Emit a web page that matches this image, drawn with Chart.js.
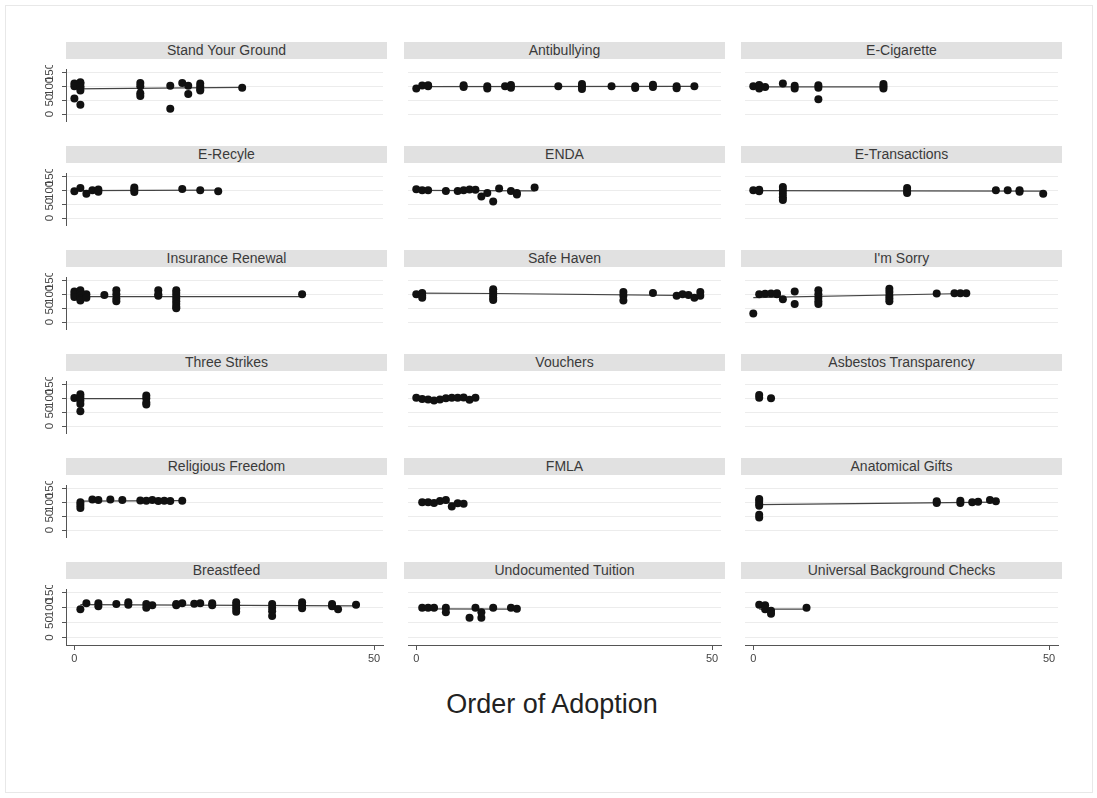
<!DOCTYPE html>
<html>
<head>
<meta charset="utf-8">
<script src="https://cdn.jsdelivr.net/npm/chart.js@4.4.1/dist/chart.umd.min.js"></script>
<style>
    body { margin: 0; background: #fff; width: 1097px; height: 798px; position: relative; overflow: hidden; font-family: "Liberation Sans", Arial, sans-serif; }
    #marco { position: absolute; left: 5px; top: 5px; width: 1086px; height: 786px; border: 1px solid #e8e8e8; }
    .tira { position: absolute; height: 17px; background: #e1e1e1; color: #3a3a3a; font-size: 14px; text-align: center; line-height: 17px; }
    .panel { position: absolute; }
    #titulo { position: absolute; left: 0; width: 1104px; top: 689px; text-align: center; font-size: 27px; color: #222; }
</style>
</head>
<body>
<div id="marco"></div>
<div id="paneles"></div>
<div id="titulo">Order of Adoption</div>

<script>
// datos: [orden de adopcion, valor]
const standYourGround = [[0,110],[0,100],[1,115],[1,110],[1,100],[1,95],[1,85],[0,56],[1,34],[11,112],[11,100],[11,75],[11,65],[16,102],[16,19],[18,112],[19,102],[19,72],[21,110],[21,100],[21,90],[21,85],[28,95]];
const standYourGroundFit = [[0,91],[28,96]];

const antibullying = [[0,92],[1,103],[2,104],[2,100],[8,104],[8,98],[12,100],[12,92],[15,100],[16,105],[16,95],[24,100],[28,108],[28,100],[28,90],[33,100],[37,100],[37,94],[40,106],[40,98],[44,100],[44,93],[47,100]];
const antibullyingFit = [[0,99],[47,100]];

const eCigarette = [[0,100],[1,105],[1,92],[2,98],[5,110],[7,102],[7,92],[11,104],[11,95],[11,53],[22,108],[22,100],[22,92]];
const eCigaretteFit = [[0,98],[22,98]];

const eRecyle = [[0,97],[1,108],[2,88],[3,100],[4,103],[4,95],[10,110],[10,102],[10,94],[18,105],[21,100],[24,97]];
const eRecyleFit = [[0,99],[24,101]];

const enda = [[0,104],[1,100],[2,100],[5,98],[7,98],[8,100],[9,103],[10,102],[11,78],[12,90],[13,60],[14,107],[16,98],[17,90],[17,85],[20,110]];
const endaFit = [[0,100],[20,98]];

const eTransactions = [[0,100],[1,102],[1,97],[5,112],[5,100],[5,88],[5,75],[5,65],[26,108],[26,98],[26,90],[41,100],[43,100],[45,100],[45,95],[49,88]];
const eTransactionsFit = [[0,99],[49,97]];

const insuranceRenewal = [[0,110],[0,100],[0,90],[1,115],[1,105],[1,95],[1,85],[1,78],[2,100],[2,88],[5,98],[7,115],[7,100],[7,85],[7,75],[14,115],[14,100],[14,95],[17,115],[17,105],[17,95],[17,85],[17,75],[17,65],[17,55],[17,50],[38,100]];
const insuranceRenewalFit = [[0,92],[38,92]];

const safeHaven = [[0,100],[1,105],[1,95],[1,88],[13,118],[13,108],[13,98],[13,88],[13,80],[35,108],[35,95],[35,78],[40,105],[44,95],[45,100],[46,98],[47,88],[48,108],[48,95]];
const safeHavenFit = [[0,104],[13,103],[48,95]];

const imSorry = [[0,31],[1,100],[2,102],[3,103],[4,100],[4,104],[5,82],[7,110],[7,65],[11,115],[11,100],[11,88],[11,75],[11,65],[23,120],[23,108],[23,95],[23,85],[23,75],[31,103],[34,104],[35,104],[36,104]];
const imSorryFit = [[0,88],[36,103]];

const threeStrikes = [[0,101],[1,115],[1,105],[1,92],[1,80],[1,53],[12,110],[12,100],[12,85],[12,78]];
const threeStrikesFit = [[0,99],[12,99]];

const vouchers = [[0,102],[1,98],[2,96],[3,92],[4,96],[5,100],[6,102],[7,102],[8,103],[9,95],[10,102]];
const vouchersFit = [[0,97],[10,99]];

const asbestos = [[1,112],[1,102],[3,100]];
const asbestosFit = [];

const religiousFreedom = [[1,90],[1,80],[1,100],[3,110],[4,108],[6,110],[8,108],[11,107],[12,106],[13,108],[14,105],[15,106],[16,105],[18,106]];
const religiousFreedomFit = [[1,104],[18,106]];

const fmla = [[1,100],[2,100],[3,98],[4,105],[5,108],[6,85],[7,97],[8,95]];
const fmlaFit = [[1,99],[8,98]];

const anatomicalGifts = [[1,112],[1,105],[1,95],[1,88],[1,55],[1,45],[31,104],[31,98],[35,106],[35,98],[37,100],[38,102],[40,108],[41,104]];
const anatomicalGiftsFit = [[1,92],[41,101]];

const breastfeed = [[1,95],[2,115],[4,115],[4,105],[7,112],[9,118],[9,110],[12,112],[12,100],[13,108],[17,108],[17,112],[18,115],[20,113],[21,115],[23,115],[23,108],[27,118],[27,108],[27,97],[27,86],[33,112],[33,100],[33,88],[33,72],[38,118],[38,108],[38,98],[43,112],[43,105],[44,95],[47,110]];
const breastfeedFit = [[1,110],[47,106]];

const undocumentedTuition = [[1,100],[2,100],[3,100],[5,100],[5,85],[9,66],[10,100],[11,66],[11,85],[13,100],[16,100],[17,96]];
const undocumentedTuitionFit = [[1,96],[17,95]];

const universalChecks = [[1,110],[2,108],[2,95],[3,90],[3,80],[9,100]];
const universalChecksFit = [[1,95],[9,95]];

const yTicks = [0, 50, 100, 150];
const xTicks = [0, 50];

const paneles = [
    { titulo: "Stand Your Ground", puntos: standYourGround, ajuste: standYourGroundFit },
    { titulo: "Antibullying", puntos: antibullying, ajuste: antibullyingFit },
    { titulo: "E-Cigarette", puntos: eCigarette, ajuste: eCigaretteFit },
    { titulo: "E-Recyle", puntos: eRecyle, ajuste: eRecyleFit },
    { titulo: "ENDA", puntos: enda, ajuste: endaFit },
    { titulo: "E-Transactions", puntos: eTransactions, ajuste: eTransactionsFit },
    { titulo: "Insurance Renewal", puntos: insuranceRenewal, ajuste: insuranceRenewalFit },
    { titulo: "Safe Haven", puntos: safeHaven, ajuste: safeHavenFit },
    { titulo: "I'm Sorry", puntos: imSorry, ajuste: imSorryFit },
    { titulo: "Three Strikes", puntos: threeStrikes, ajuste: threeStrikesFit },
    { titulo: "Vouchers", puntos: vouchers, ajuste: vouchersFit },
    { titulo: "Asbestos Transparency", puntos: asbestos, ajuste: asbestosFit },
    { titulo: "Religious Freedom", puntos: religiousFreedom, ajuste: religiousFreedomFit },
    { titulo: "FMLA", puntos: fmla, ajuste: fmlaFit },
    { titulo: "Anatomical Gifts", puntos: anatomicalGifts, ajuste: anatomicalGiftsFit },
    { titulo: "Breastfeed", puntos: breastfeed, ajuste: breastfeedFit },
    { titulo: "Undocumented Tuition", puntos: undocumentedTuition, ajuste: undocumentedTuitionFit },
    { titulo: "Universal Background Checks", puntos: universalChecks, ajuste: universalChecksFit }
];

// geometria de la rejilla
const colLeft = [66, 404, 741];
const plotW = 321;
const rowStep = 104;
const stripTop = 42;
const plotTop = 65;
const plotH = 60;
const yAxisW = 36;
const xAxisH = 24;

// etiquetas del eje y giradas (como Stata)
const etiquetasY = {
    id: "etiquetasY",
    afterDraw(chart) {
        const ctx = chart.ctx;
        const esc = chart.scales.y;
        ctx.save();
        ctx.font = '11.5px "Liberation Sans", Arial';
        ctx.fillStyle = "#444";
        ctx.textAlign = "center";
        ctx.textBaseline = "middle";
        yTicks.forEach(v => {
            ctx.save();
            ctx.translate(esc.left + 20, esc.getPixelForValue(v));
            ctx.rotate(-Math.PI / 2);
            ctx.fillText(String(v), 0, 0);
            ctx.restore();
        });
        ctx.restore();
    }
};

const cont = document.getElementById("paneles");

paneles.forEach((p, i) => {
    const fila = Math.floor(i / 3);
    const col = i % 3;
    const conEjeY = col === 0;
    const conEjeX = fila === 5;

    const tira = document.createElement("div");
    tira.className = "tira";
    tira.style.left = colLeft[col] + "px";
    tira.style.top = (stripTop + fila * rowStep) + "px";
    tira.style.width = plotW + "px";
    tira.textContent = p.titulo;
    cont.appendChild(tira);

    const w = plotW + (conEjeY ? yAxisW : 0);
    const h = plotH + (conEjeX ? xAxisH : 0);
    const div = document.createElement("div");
    div.className = "panel";
    div.style.left = (colLeft[col] - (conEjeY ? yAxisW : 0)) + "px";
    div.style.top = (plotTop + fila * rowStep) + "px";
    div.style.width = w + "px";
    div.style.height = h + "px";
    const canvas = document.createElement("canvas");
    div.appendChild(canvas);
    cont.appendChild(div);

    new Chart(canvas, {
        type: "scatter",
        data: {
            datasets: [
                {
                    data: p.puntos.map(d => ({ x: d[0], y: d[1] })),
                    backgroundColor: "#111",
                    borderColor: "#111",
                    pointRadius: 4,
                    pointBorderWidth: 0,
                    order: 1
                },
                {
                    data: p.ajuste.map(d => ({ x: d[0], y: d[1] })),
                    showLine: true,
                    borderColor: "#444",
                    borderWidth: 1.2,
                    pointRadius: 0,
                    order: 2
                }
            ]
        },
        options: {
            responsive: true,
            maintainAspectRatio: false,
            animation: false,
            layout: { padding: 0 },
            plugins: { legend: { display: false }, tooltip: { enabled: false } },
            scales: {
                x: {
                    type: "linear",
                    min: -1.4,
                    max: 51.5,
                    display: conEjeX,
                    afterBuildTicks: s => { s.ticks = xTicks.map(v => ({ value: v })); },
                    afterFit: s => { s.height = conEjeX ? xAxisH : 0; },
                    grid: { drawOnChartArea: false, drawTicks: true, tickLength: 5, color: "#555" },
                    border: { display: true, color: "#555", width: 1 },
                    ticks: { color: "#444", padding: 2, font: { size: 11, family: "Liberation Sans" }, maxRotation: 0 }
                },
                y: {
                    type: "linear",
                    min: -25,
                    max: 162.5,
                    afterBuildTicks: s => { s.ticks = yTicks.map(v => ({ value: v })); },
                    afterFit: s => { s.width = conEjeY ? yAxisW : 0; },
                    grid: { color: "#ececec", lineWidth: 1, drawTicks: conEjeY, tickLength: 4, tickColor: "#555" },
                    border: { display: conEjeY, color: "#555", width: 1 },
                    ticks: { display: false }
                }
            }
        },
        plugins: conEjeY ? [etiquetasY] : []
    });
});
</script>
</body>
</html>
